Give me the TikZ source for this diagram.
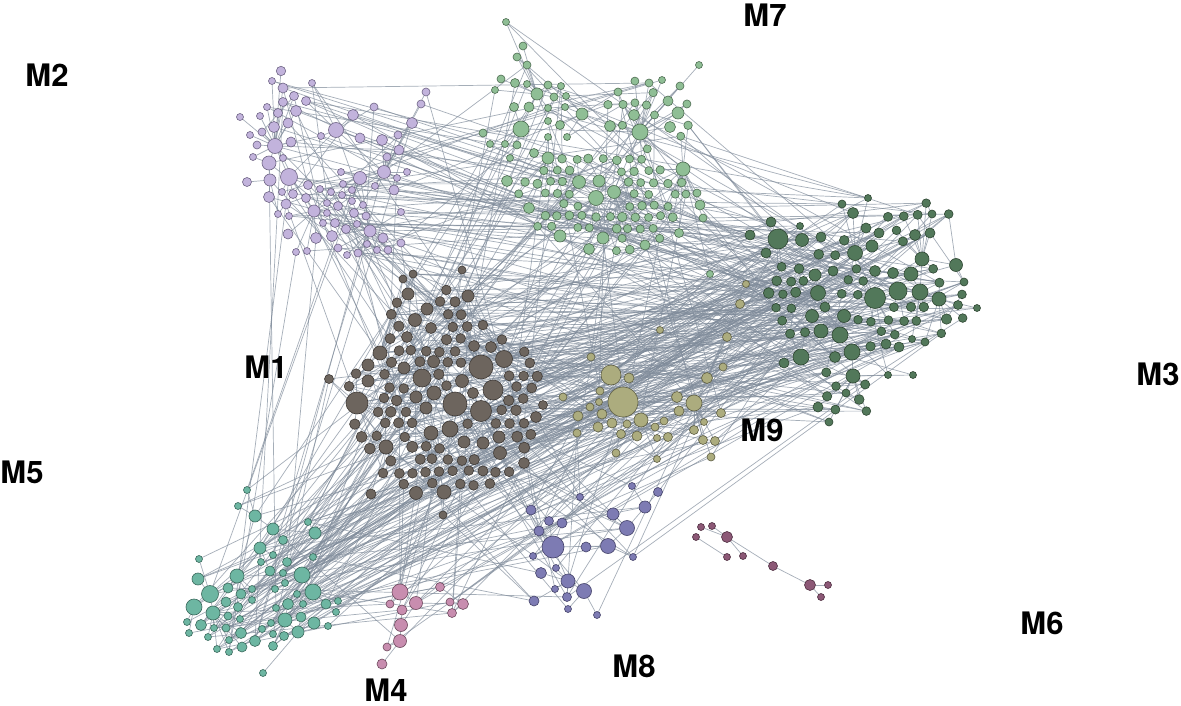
\documentclass[tikz,border=0pt]{standalone}
\usepackage{fontspec}
\setmainfont{TeX Gyre Heros}
\pgfdeclarelayer{bg}
\pgfdeclarelayer{fg}
\pgfsetlayers{bg,main,fg}
\definecolor{edgecol}{HTML}{808C9B}
\definecolor{fA}{HTML}{6D655E}\definecolor{dA}{HTML}{3F3A36}
\definecolor{fB}{HTML}{C2B3DC}\definecolor{dB}{HTML}{6F6585}
\definecolor{fC}{HTML}{8FBE95}\definecolor{dC}{HTML}{4E6D52}
\definecolor{fD}{HTML}{52785A}\definecolor{dD}{HTML}{2E4632}
\definecolor{fE}{HTML}{ACAC7E}\definecolor{dE}{HTML}{5E5E44}
\definecolor{fF}{HTML}{7D7BB3}\definecolor{dF}{HTML}{45436A}
\definecolor{fG}{HTML}{C88DAF}\definecolor{dG}{HTML}{6E4A5E}
\definecolor{fH}{HTML}{8C5876}\definecolor{dH}{HTML}{4E2F41}
\definecolor{fI}{HTML}{6DB6A2}\definecolor{dI}{HTML}{3B6A5D}
\tikzset{
  lnk/.style={draw=edgecol, line width=0.7pt, opacity=0.7},
  vtx/.style={circle, inner sep=0pt, outer sep=0pt, line width=0.6pt},
  cA/.style={vtx, fill=fA, draw=dA},
  cB/.style={vtx, fill=fB, draw=dB},
  cC/.style={vtx, fill=fC, draw=dC},
  cD/.style={vtx, fill=fD, draw=dD},
  cE/.style={vtx, fill=fE, draw=dE},
  cF/.style={vtx, fill=fF, draw=dF},
  cG/.style={vtx, fill=fG, draw=dG},
  cH/.style={vtx, fill=fH, draw=dH},
  cI/.style={vtx, fill=fI, draw=dI},
  lab/.style={font=\bfseries\fontsize{31}{31}\selectfont, inner sep=0pt, text=black}
}
\newcount\nc
\newcount\ncen
\newif\ifkeep
\gdef\edgelist{}
% \addedge{nodeA}{nodeB}  (names expanded now, drawn later)
\newcommand\addedge[2]{%
  \xdef\edgelist{\unexpanded\expandafter{\edgelist}\noexpand\draw[lnk] (#1) -- (#2);}%
}
% \addnode{cluster}{x}{y}{r}{style}
\newcommand\addnode[5]{%
  \global\advance\nc by 1
  \node[#5, minimum size=2*#4] (#1-\the\nc) at (#2,#3) {};%
  \expandafter\xdef\csname px@#1@\the\nc\endcsname{#2}%
  \expandafter\xdef\csname py@#1@\the\nc\endcsname{#3}%
  \expandafter\xdef\csname pr@#1@\the\nc\endcsname{#4}%
}
% \linknear{cluster}{i}{from}{to}
\newcommand\linknear[4]{%
  \gdef\bestd{16000}\gdef\besth{0}%
  \edef\qqx{\csname px@#1@#2\endcsname}\edef\qqy{\csname py@#1@#2\endcsname}%
  \foreach \j in {#3,...,#4} {%
    \edef\lnx{\csname px@#1@\j\endcsname}\edef\lny{\csname py@#1@\j\endcsname}%
    \pgfmathsetmacro\ddx{(\qqx-\lnx)/100}\pgfmathsetmacro\ddy{(\qqy-\lny)/100}%
    \pgfmathsetmacro\dd{(\ddx)*(\ddx)+(\ddy)*(\ddy)}%
    \pgfmathtruncatemacro\better{\dd<\bestd}%
    \ifnum\better=1 \xdef\bestd{\dd}\xdef\besth{\j}\fi
  }%
  \ifnum\besth>0 \addedge{#1-#2}{#1-\besth}\fi
}
% \linkrand{cluster}{i}{lo}{hi}
\newcommand\linkrand[4]{%
  \gdef\bestd{16000}\gdef\besth{0}%
  \edef\qqx{\csname px@#1@#2\endcsname}\edef\qqy{\csname py@#1@#2\endcsname}%
  \foreach \k in {1,...,6} {%
    \pgfmathrandominteger\rj{#3}{#4}%
    \edef\lnx{\csname px@#1@\rj\endcsname}\edef\lny{\csname py@#1@\rj\endcsname}%
    \pgfmathsetmacro\ddx{(\qqx-\lnx)/100}\pgfmathsetmacro\ddy{(\qqy-\lny)/100}%
    \pgfmathsetmacro\dd{(\ddx)*(\ddx)+(\ddy)*(\ddy)}%
    \pgfmathtruncatemacro\better{\dd<\bestd}%
    \ifnum\better=1 \xdef\bestd{\dd}\xdef\besth{\rj}\fi
  }%
  \ifnum\besth>0 \addedge{#1-#2}{#1-\besth}\fi
}
% \mkcluster{name}{style}{centers}{extras}
\newcommand\mkcluster[4]{%
  \global\nc=0
  \begin{pgfonlayer}{fg}%
  \foreach \hx/\hy/\hr in #3 {\addnode{#1}{\hx}{\hy}{\hr}{#2}}%
  \end{pgfonlayer}%
  \global\ncen=\nc
  \xdef\ncenm{\the\ncen}%
  \ifnum\ncen>1
    \foreach \i in {2,...,\ncenm} {%
      \pgfmathtruncatemacro\im{\i-1}%
      \linknear{#1}{\i}{1}{\im}}%
  \fi
  \foreach \hx/\hy/\hr in #4 {\addnode{#1}{\hx}{\hy}{\hr}{#2}\edef\curi{\the\nc}\linknear{#1}{\curi}{1}{\ncenm}}%
  \xdef\nexp{\the\nc}%
  \expandafter\xdef\csname N@#1\endcsname{\the\nc}%
}
% \gridfill{name}{style}{ellipses}{x0}{x1}{y0}{y1}
\newcommand\gridfill[7]{%
  \pgfmathsetmacro\gdy{\gsp*0.866}%
  \pgfmathsetmacro\gyb{#6+\gdy}%
  \pgfmathsetmacro\gxb{#4+\gsp}%
  \foreach \gy [count=\row] in {#6,\gyb,...,#7} {%
    \foreach \gxx in {#4,\gxb,...,#5} {%
      \pgfmathsetmacro\gx{\gxx+mod(\row,2)*\gsp/2}%
      \global\keepfalse
      \foreach \ex/\ey/\ea/\eb in #3 {%
        \pgfmathsetmacro\ddx{(\gx-\ex)/\ea}\pgfmathsetmacro\ddy{(\gy-\ey)/\eb}%
        \pgfmathtruncatemacro\qins{(\ddx)*(\ddx)+(\ddy)*(\ddy)<1}%
        \ifnum\qins=1 \global\keeptrue\fi}%
      \ifkeep
        \pgfmathtruncatemacro\qrk{rnd<\gkeep}%
        \ifnum\qrk=0 \global\keepfalse\fi
      \fi
      \ifkeep
        \pgfmathsetmacro\qpx{\gx+(rnd-0.5)*2*\gjit}%
        \pgfmathsetmacro\qpy{\gy+(rnd-0.5)*2*\gjit}%
        \pgfmathsetmacro\qpr{\grmin+(\grmax-\grmin)*rnd*rnd*rnd}%
        \foreach \j in {1,...,\nexp} {%
          \edef\lnx{\csname px@#1@\j\endcsname}\edef\lny{\csname py@#1@\j\endcsname}\edef\lnr{\csname pr@#1@\j\endcsname}%
          \pgfmathsetmacro\ddx{(\qpx-\lnx)/100}\pgfmathsetmacro\ddy{(\qpy-\lny)/100}%
          \pgfmathtruncatemacro\qclash{(\ddx)*(\ddx)+(\ddy)*(\ddy)<((\qpr+\lnr+2)/100)*((\qpr+\lnr+2)/100)}%
          \ifnum\qclash=1 \global\keepfalse\fi}%
      \fi
      \ifkeep
        \addnode{#1}{\qpx}{\qpy}{\qpr}{#2}%
        \edef\curi{\the\nc}%
        \linknear{#1}{\curi}{1}{\ncenm}%
        \pgfmathtruncatemacro\qrl{rnd<\glinkp}%
        \ifnum\qrl=1
          \pgfmathtruncatemacro\qlo{max(1,\curi-30)}\pgfmathtruncatemacro\qhi{\curi-1}%
          \linkrand{#1}{\curi}{\qlo}{\qhi}%
        \fi
      \fi
    }%
  }%
  \expandafter\xdef\csname N@#1\endcsname{\the\nc}%
}
% \interlinks{A}{B}{count}
\newcommand\interlinks[3]{%
  \edef\qna{\csname N@#1\endcsname}\edef\qnb{\csname N@#2\endcsname}%
  \foreach \k in {1,...,#3} {%
    \pgfmathrandominteger\ia{1}{\qna}\pgfmathrandominteger\ib{1}{\qnb}%
    \addedge{#1-\ia}{#2-\ib}}%
}
% ---------------- data ----------------
% M1
\def\cenA{481/367/12, 455/404/12, 481/411/10.5, 493/390/10, 357/403/11, 422/378/9, 504/359/8.5, 450/429/8, 386/447/7, 380/353/7, 434/393/7, 431/433/7, 444/492/7}
\def\extA{415/320/6.5, 468/296/6, 408/294/6, 500/453/6.5, 483/443/6, 416/493/6.5, 464/442/6, 427/309/6, 404/368/6, 368/365/6, 368/381/6, 536/417/5.5, 524/463/5.5, 371/494/5, 329/379/4.5, 431/328/5.5, 407/337/5.5, 491/347/5.5, 474/346/5.5, 416/397/6, 426/408/6, 462/381/6.5, 473/393/5.5, 499/437/6, 462/270/4, 413/274/4, 403/279/4, 443/515/4, 543/405/4.5}
\def\ellA{445/405/100/90, 428/318/40/34}
% M2
\def\cenB{289/177/8.5, 336/130/7.5, 275/146/7.5, 269/163/7, 384/172/6.5, 360/178/6.5, 314/211/6, 370/231/6, 270/180/6}
\def\extB{281/71/4.7, 272/81/3.5, 283/88/5, 312/83/3.5, 294/96/4.5, 283/102/4.5, 306/101/4.5, 267/107/3.5, 296/111/5.5, 278/113/4.5, 260/116/3.5, 240/117/3.5, 353/115/5.5, 374/107/4, 426/92/4, 421/104/4, 412/123/5.5, 288/123/5, 274/127/5.5, 262/132/4, 250/135/3.5, 321/136/3.5, 360/138/5, 382/140/5.5, 398/135/4, 291/142/5, 257/145/4, 399/150/5, 253/157/3.5, 283/158/3.5, 387/157/4, 341/172/3.5, 407/172/3.5, 397/178/3.5, 247/182/4.5, 308/185/4.5, 320/189/3.5, 343/184/3.5, 352/190/3.5, 375/186/3.5, 394/190/5, 282/192/3.5, 293/194/4.5, 331/192/3.5, 342/195/3.5, 269/197/5.5, 306/198/4.5, 352/201/3.5, 363/205/3.5, 327/203/3.5, 286/204/5, 338/206/4.5, 278/214/3.5, 289/216/3.5, 327/213/3.5, 354/213/4.5, 366/216/4, 401/212/3.5, 323/223/3.5, 335/223/4.5, 346/229/4.5, 357/224/3.5, 383/238/5, 288/234/5, 316/238/5.5, 332/236/5.5, 367/244/3.5, 401/243/4, 296/252/3.5, 307/251/3.5, 338/248/4, 347/255/3.5, 358/253/4, 377/250/3.5, 388/250/4}
% M7
\def\cenC{521/129/8, 640/132/8, 683/169/7, 596/198/7.5, 579/182/6.5, 614/192/6.5, 599/181/6, 582/114/6, 548/158/6, 537/94/6}
\def\extC{506/22/3.5, 523/46/4, 517/57/4, 527/65/4, 610/126/5.5, 634/115/5.5, 670/127/5.5, 678/113/6, 668/101/5, 680/86/4, 699/65/3.5, 649/83/4, 662/80/3.5, 618/92/4, 507/181/5.5, 529/208/5.5, 560/236/6, 603/238/6, 589/249/5.5, 645/245/5, 700/205/5, 679/233/4.5, 697/193/4, 703/218/4, 710/274/3.5, 501/79/4, 495/90/3.5, 515/83/4.5, 527/84/3.5, 514/107/4.5, 529/107/5, 548/85/4, 561/86/3.5, 554/97/4, 566/96/3.5, 548/108/3.5, 565/107/3.5, 548/121/3.5, 560/125/4.5, 483/133/4, 490/144/3.5, 505/144/3.5, 517/145/4, 534/153/4.5, 548/137/3.5, 567/137/3.5, 510/158/3.5}
\def\ellC{652/112/48/38, 610/202/95/50}
% M3
\def\cenD{778/239/10, 875/298/10.5, 898/291/9, 920/292/8, 939/299/7, 840/335/8, 852/352/8, 801/357/8, 818/293/7.5, 855/253/7.5, 922/259/7, 956/265/6.5, 853/376/7, 911/274/7}
\def\extD{802/240/6.5, 872/246/6, 815/275/6, 812/316/6.5, 821/331/7, 844/316/6.5, 750/235/5, 771/222/5, 766/253/5, 784/363/5, 818/407/5, 829/422/4, 853/213/5.5, 842/204/4, 868/198/3.5, 866/228/5, 879/233/5, 833/271/5, 821/237/5, 800/226/3.5, 915/235/5.5, 930/233/5, 932/214/4, 893/273/5.5, 875/271/5.5, 825/307/5, 835/357/5.5, 886/344/5, 899/347/5, 958/305/4.5, 977/308/3.5, 964/282/4, 925/342/4, 912/339/3.5, 888/375/3.5, 913/375/3.5, 846/393/4}
\def\ellD{868/292/108/62, 843/385/30/40, 915/222/38/22}
% M9
\def\cenE{623/402/15, 611/375/10, 694/403/8, 641/420/7, 707/378/5.5, 677/397/5.5}
\def\extE{629/378/5, 600/391/4, 599/402/3.5, 590/407/4, 578/416/5, 602/414/5, 612/423/5, 598/427/5, 627/424/4, 621/434/4.5, 637/436/5, 655/427/4, 664/421/4, 657/438/3.5, 668/437/4.5, 679/411/5, 694/430/4.5, 704/422/3.5, 703/440/4.5, 715/441/4.5, 721/413/4.5, 723/367/4, 711/457/4, 657/459/3.5, 616/453/4, 591/357/4, 577/433/4, 563/397/4, 740/304/4.5, 746/284/3.5, 727/337/4.5, 660/330/3.5}
% M8
\def\cenF{553/547/11, 608/546/7.5, 627/528/7.5, 568/581/7, 584/591/7.5, 613/514/6, 645/507/6}
\def\extF{531/510/5, 549/521/4.5, 562/523/5, 539/531/5, 580/497/3.5, 632/486/3.5, 658/492/4.5, 533/556/3.5, 586/547/5, 633/557/3.5, 541/573/5.5, 556/568/3.5, 555/589/3.5, 567/597/4.5, 568/609/3.5, 534/601/5, 597/615/3.5}
% M4
\def\cenG{400/592/8, 416/603/6.5, 401/625/6.5, 400/641/6.5, 463/604/5.5}
\def\extG{390/604/4, 402/610/5, 387/647/4, 382/664/5, 440/587/4.5, 450/602/4, 452/613/4.5}
% M5
\def\cenI{210/594/8.5, 194/607/8, 237/576/7, 302/575/8, 313/592/8, 213/613/7, 285/620/7, 255/516/6, 273/529/6, 315/533/6, 260/548/6, 298/632/6}
\def\extI{247/490/3.5, 198/579/6, 199/559/3.5, 263/673/3.5, 228/588/5, 241/594/5, 226/602/5, 238/607/4.5, 228/616/4, 240/619/3.5, 252/589/3.5, 252/600/3.5, 187/622/3.5, 189/633/3.5, 201/625/5.5, 214/628/3.5, 208/637/3.5, 226/628/4, 241/633/5.5, 229/640/3.5, 217/649/3.5, 229/652/3.5, 242/647/5, 255/641/5.5, 262/629/3.5, 271/623/3.5, 273/634/3.5, 273/646/4.5, 284/636/4.5, 276/608/3.5, 288/604/5.5, 301/617/5, 303/604/3.5, 314/623/6, 326/604/5, 328/626/3.5, 336/612/3.5, 338/601/3.5, 297/594/3.5, 285/583/3.5, 275/589/3.5, 270/571/5, 283/573/3.5, 287/562/4.5, 261/562/3.5, 273/555/3.5, 283/540/4.5, 313/557/3.5, 308/522/3.5, 238/506/3.5}
\begin{document}
\begin{tikzpicture}[x=1pt,y=-1pt]
\pgfmathsetseed{1234}
\useasboundingbox (0,0) rectangle (1181,706);
% M1
\mkcluster{A}{cA}{\cenA}{\extA}
\def\gsp{14}\def\gkeep{0.95}\def\gjit{1.5}\def\grmin{4.8}\def\grmax{6.3}\def\glinkp{0.5}
\gridfill{A}{cA}{\ellA}{335}{550}{278}{500}
% M2
\mkcluster{B}{cB}{\cenB}{\extB}
% M7
\mkcluster{C}{cC}{\cenC}{\extC}
\def\gsp{13}\def\gkeep{0.85}\def\gjit{1.5}\def\grmin{4}\def\grmax{5.2}\def\glinkp{0.4}
\gridfill{C}{cC}{\ellC}{505}{710}{70}{255}
% M3
\mkcluster{D}{cD}{\cenD}{\extD}
\def\gsp{15}\def\gkeep{0.75}\def\gjit{2}\def\grmin{4.3}\def\grmax{6}\def\glinkp{0.4}
\gridfill{D}{cD}{\ellD}{745}{980}{190}{430}
% M9, M8, M4, M5
\mkcluster{E}{cE}{\cenE}{\extE}
\mkcluster{F}{cF}{\cenF}{\extF}
\mkcluster{G}{cG}{\cenG}{\extG}
\mkcluster{I}{cI}{\cenI}{\extI}
% M6
\node[cH, minimum size=7pt] (H-1) at (701,527) {};
\node[cH, minimum size=7pt] (H-2) at (712,526) {};
\node[cH, minimum size=7pt] (H-3) at (696,537) {};
\node[cH, minimum size=11pt] (H-4) at (727,537) {};
\node[cH, minimum size=7pt] (H-5) at (727,557) {};
\node[cH, minimum size=7pt] (H-6) at (743,556) {};
\node[cH, minimum size=9pt] (H-7) at (773,566) {};
\node[cH, minimum size=11pt] (H-8) at (810,585) {};
\node[cH, minimum size=7pt] (H-9) at (828,585) {};
\node[cH, minimum size=7pt] (H-10) at (821,597) {};
\addedge{H-1}{H-4}
\addedge{H-2}{H-4}
\addedge{H-3}{H-5}
\addedge{H-4}{H-6}
\addedge{H-4}{H-7}
\addedge{H-7}{H-8}
\addedge{H-8}{H-9}
\addedge{H-8}{H-10}
% inter-cluster connections
\interlinks{A}{D}{140}
\interlinks{B}{D}{45}
\interlinks{C}{D}{40}
\interlinks{A}{I}{55}
\interlinks{I}{D}{35}
\interlinks{I}{E}{15}
\interlinks{B}{I}{10}
\interlinks{B}{A}{28}
\interlinks{A}{C}{35}
\interlinks{B}{C}{28}
\interlinks{E}{D}{25}
\interlinks{E}{A}{25}
\interlinks{E}{C}{12}
\interlinks{F}{A}{22}
\interlinks{F}{E}{10}
\interlinks{F}{D}{10}
\interlinks{F}{I}{10}
\interlinks{G}{A}{12}
\interlinks{G}{I}{8}
\interlinks{G}{E}{6}
\interlinks{G}{D}{5}
\interlinks{C}{I}{8}
\interlinks{A}{A}{30}
\interlinks{B}{B}{15}
\interlinks{C}{C}{12}
\interlinks{D}{D}{15}
\begin{pgfonlayer}{bg}
\fill[white] (0,0) rectangle (1181,706);
\edgelist
\end{pgfonlayer}
% labels
\node[lab] (lM7) at (765,15) {M7};
\node[lab] (lM2) at (47,75) {M2};
\node[lab] (lM1) at (266,367) {M1};
\node[lab] (lM3) at (1158,374) {M3};
\node[lab] (lM9) at (762,430) {M9};
\node[lab] (lM5) at (22,472) {M5};
\node[lab] (lM6) at (1042,623) {M6};
\node[lab] (lM8) at (634,666) {M8};
\node[lab] (lM4) at (386,690) {M4};
\end{tikzpicture}
\end{document}
